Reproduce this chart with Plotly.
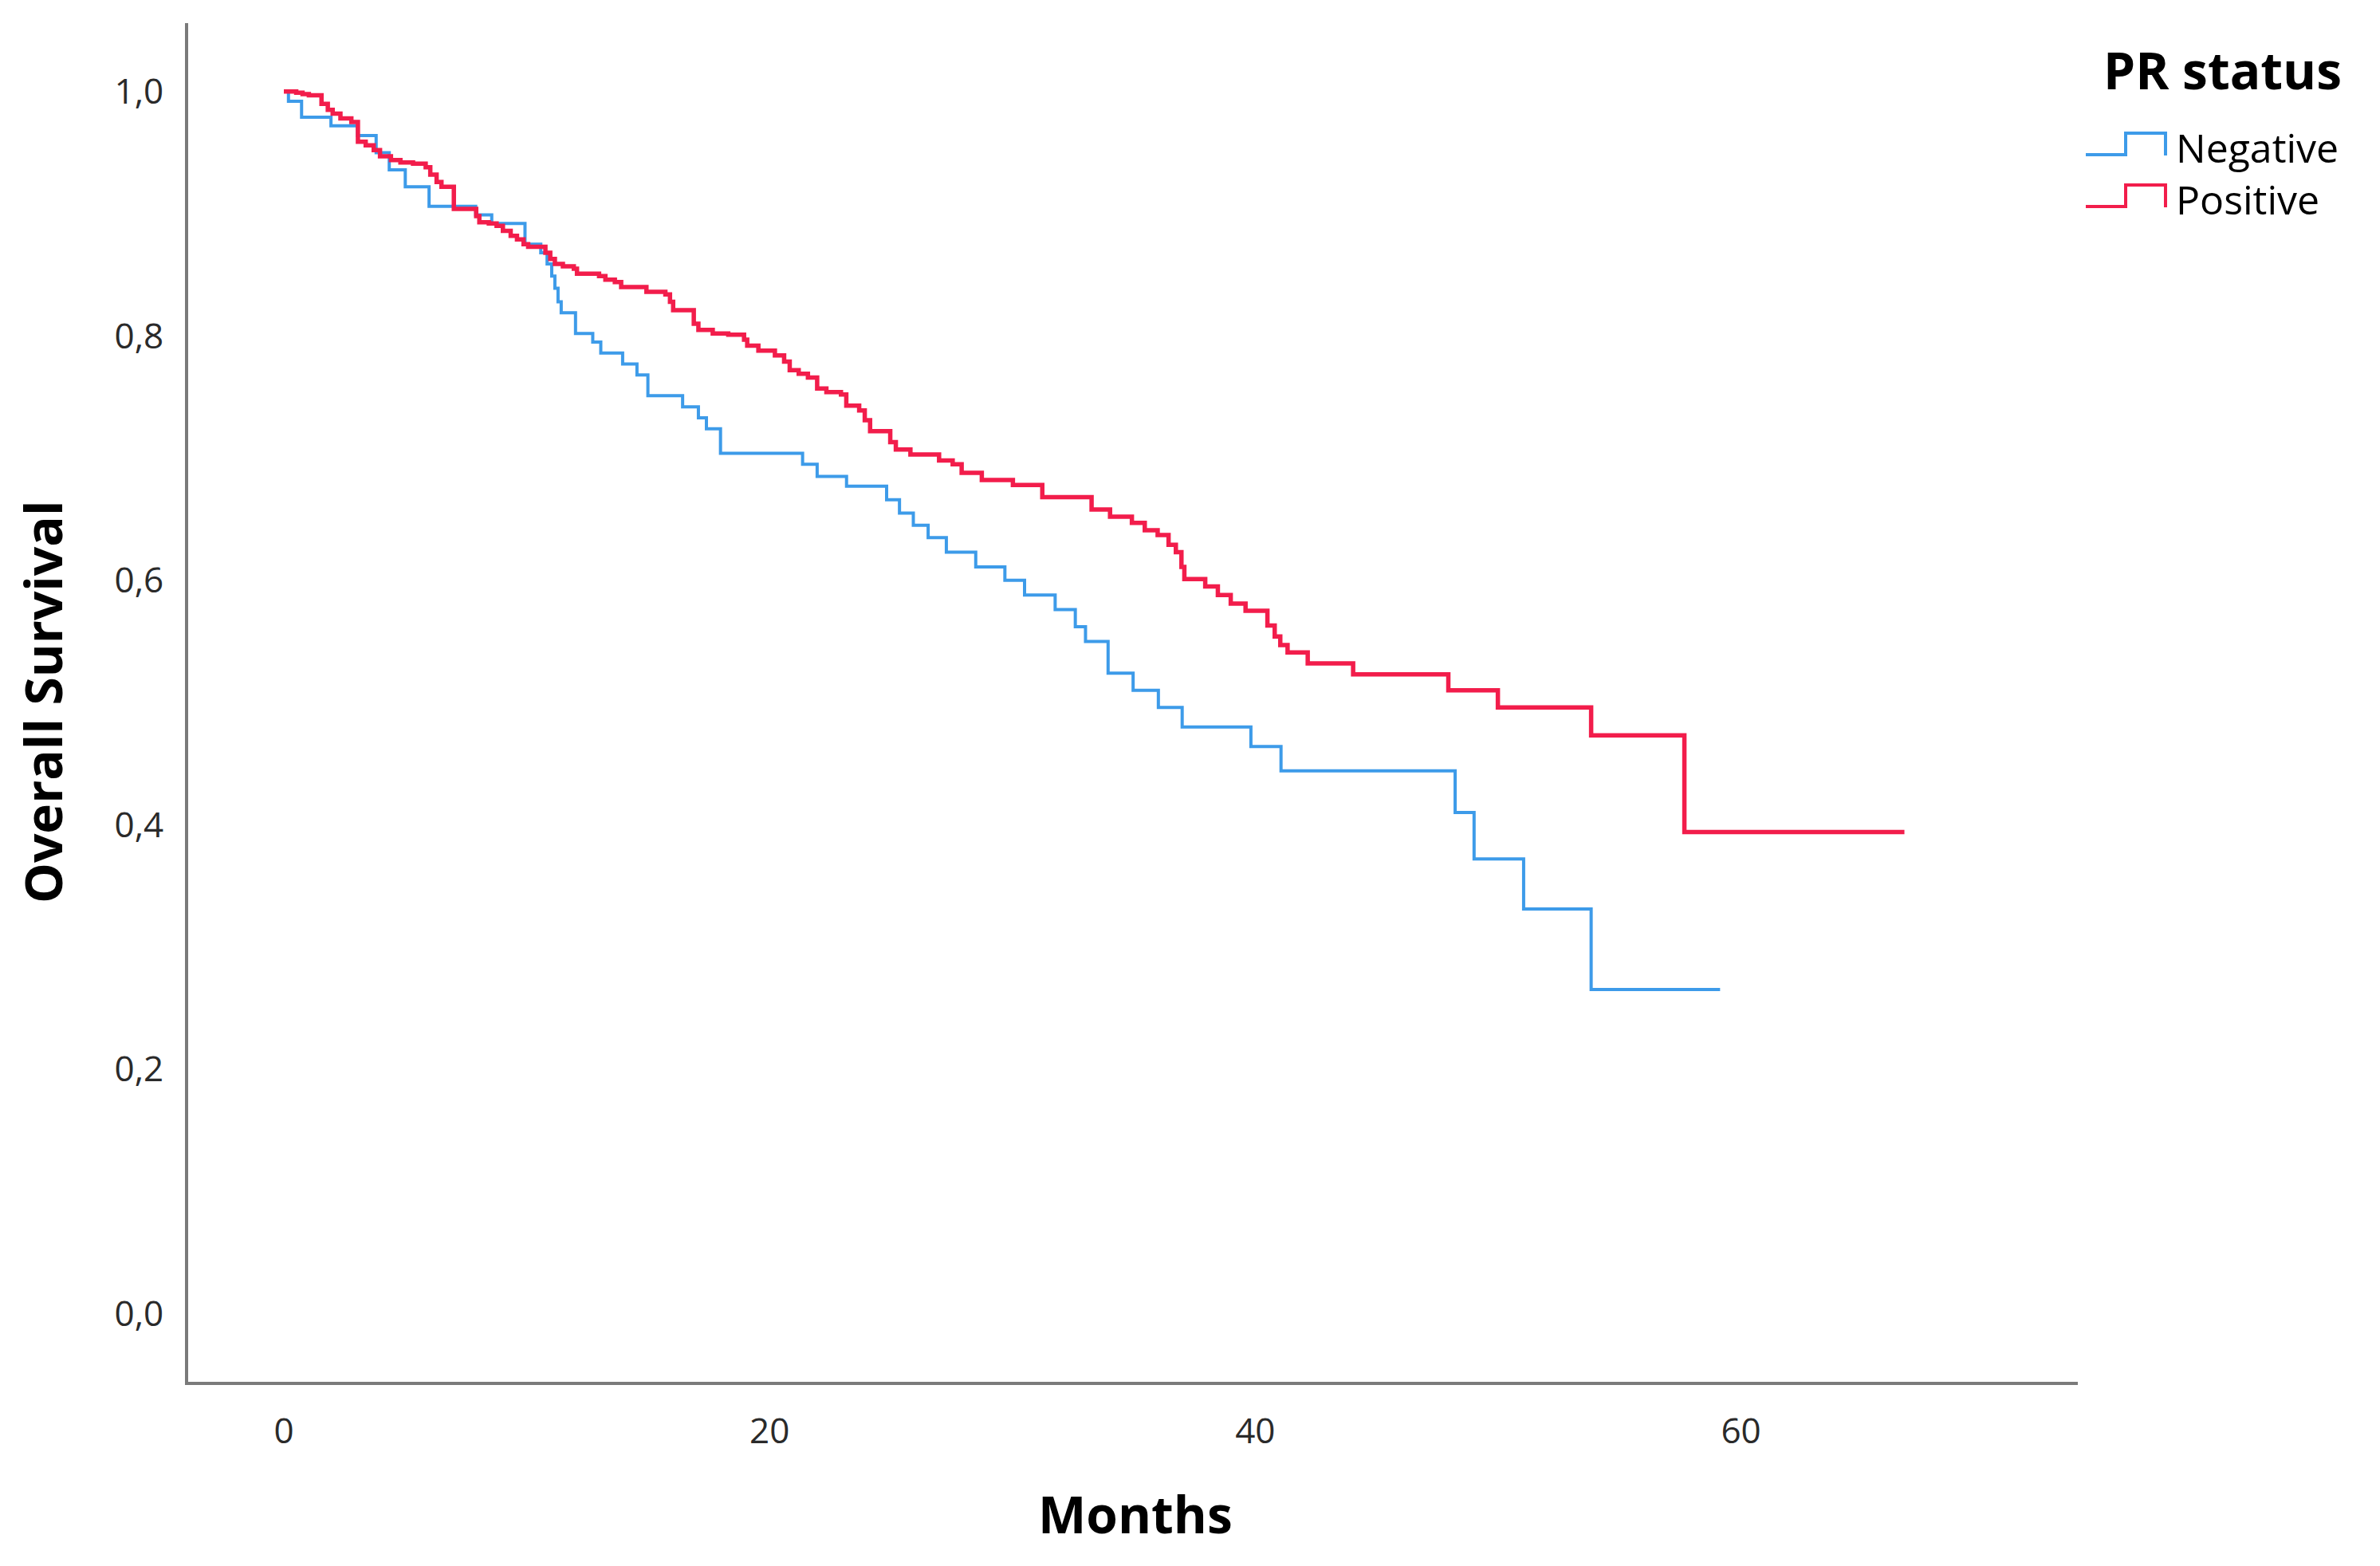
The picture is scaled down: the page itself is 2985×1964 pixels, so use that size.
import plotly.graph_objects as go

# Kaplan-Meier step data (months, overall survival)
neg_months = [0, 0.19, 0.73, 1.94, 3.03, 3.8, 4.34, 5.0, 5.98, 7.9, 8.56, 9.93, 10.58, 10.84,
              11.03, 11.16, 11.29, 11.42, 12.01, 12.72, 13.05, 13.95, 14.54, 14.99, 16.42,
              17.07, 17.4, 17.98, 21.36, 21.96, 23.17, 24.82, 25.35, 25.92, 26.53, 27.28,
              28.49, 29.69, 30.5, 31.76, 32.59, 33.01, 33.94, 34.97, 36.01, 36.99, 39.82,
              41.06, 48.23, 49.01, 51.05, 53.83, 59.14]
neg_surv = [1.0, 0.992, 0.979, 0.972, 0.964, 0.95, 0.936, 0.922, 0.906, 0.899, 0.892, 0.875,
            0.868, 0.859, 0.849, 0.839, 0.828, 0.819, 0.802, 0.795, 0.786, 0.777, 0.768,
            0.751, 0.742, 0.733, 0.724, 0.704, 0.695, 0.685, 0.677, 0.666, 0.655, 0.645,
            0.635, 0.623, 0.611, 0.600, 0.588, 0.576, 0.562, 0.550, 0.524, 0.510, 0.496,
            0.480, 0.464, 0.444, 0.410, 0.372, 0.331, 0.265, 0.265]

pos_months = [0, 0.51, 0.77, 1.03, 1.55, 1.81, 2.01, 2.33, 2.78, 3.05, 3.37, 3.7, 3.96, 4.41,
              4.8, 5.32, 5.84, 6.03, 6.29, 6.49, 7.0, 7.92, 8.05, 8.44, 8.76, 9.02, 9.34, 9.6,
              9.87, 10.06, 10.77, 10.97, 11.16, 11.49, 11.94, 12.07, 12.98, 13.24, 13.63,
              13.89, 14.93, 15.71, 15.9, 16.03, 16.88, 17.07, 17.66, 18.3, 18.95, 19.08,
              19.54, 20.22, 20.6, 20.83, 21.2, 21.58, 21.96, 22.34, 22.94, 23.16, 23.69,
              23.92, 24.14, 24.97, 25.2, 25.8, 26.98, 27.54, 27.91, 28.74, 30.02, 31.23,
              33.26, 34.02, 34.92, 35.45, 35.98, 36.43, 36.73, 36.96, 37.08, 37.94, 38.46,
              38.99, 39.6, 40.5, 40.8, 41.03, 41.33, 42.16, 44.03, 47.95, 49.99, 53.83,
              57.67, 66.73]
pos_surv = [1.0, 0.999, 0.998, 0.997, 0.99, 0.985, 0.982, 0.978, 0.975, 0.959, 0.956, 0.952,
            0.947, 0.944, 0.942, 0.941, 0.938, 0.932, 0.926, 0.922, 0.904, 0.898, 0.893,
            0.892, 0.89, 0.886, 0.882, 0.879, 0.875, 0.873, 0.868, 0.863, 0.859, 0.857,
            0.855, 0.851, 0.849, 0.846, 0.844, 0.84, 0.836, 0.834, 0.828, 0.821, 0.81,
            0.805, 0.802, 0.801, 0.797, 0.792, 0.788, 0.784, 0.779, 0.772, 0.769, 0.766,
            0.757, 0.754, 0.752, 0.743, 0.739, 0.731, 0.722, 0.713, 0.707, 0.703, 0.698,
            0.695, 0.688, 0.682, 0.678, 0.668, 0.658, 0.652, 0.647, 0.641, 0.637, 0.629,
            0.623, 0.611, 0.601, 0.595, 0.588, 0.581, 0.575, 0.563, 0.554, 0.547, 0.541,
            0.532, 0.523, 0.510, 0.496, 0.473, 0.394, 0.394]

assert len(neg_months) == len(neg_surv)
assert len(pos_months) == len(pos_surv)

x_ticks = [0, 20, 40, 60]
y_ticks = [0.0, 0.2, 0.4, 0.6, 0.8, 1.0]

group_names = ["Negative", "Positive"]
group_colors = ["#3d9be9", "#f21d4b"]
legend_title = "PR status"

W, H = 2985, 1964
L, R, T, B = 236, 379, 29, 231
pw, ph = W - L - R, H - T - B


def px_x(X):
    return (X - L) / pw


def px_y(Y):
    return (H - B - Y) / ph


fig = go.Figure()
fig.add_trace(go.Scatter(x=neg_months, y=neg_surv, mode="lines", line_shape="hv",
                         line=dict(color=group_colors[0], width=4), name=group_names[0]))
fig.add_trace(go.Scatter(x=pos_months, y=pos_surv, mode="lines", line_shape="hv",
                         line=dict(color=group_colors[1], width=5.5), name=group_names[1]))

tick_font = dict(family="Open Sans, sans-serif", size=44, color="#2a2a2a")

fig.update_layout(
    width=W, height=H,
    margin=dict(l=L, r=R, t=T, b=B, autoexpand=False),
    paper_bgcolor="white", plot_bgcolor="white",
    showlegend=False,
    separators=", ",
    xaxis=dict(range=[-3.94, 73.87], tickvals=x_ticks, showgrid=False, zeroline=False,
               showline=True, linecolor="#7a7a7a", linewidth=4, ticks="",
               tickfont=tick_font, ticklabelstandoff=20),
    yaxis=dict(range=[-0.056, 1.056], tickvals=y_ticks, tickformat=".1f", showgrid=False,
               zeroline=False, showline=True, linecolor="#7a7a7a", linewidth=4, ticks="",
               tickfont=tick_font, ticklabelstandoff=18),
)

title_font = dict(family="Open Sans, sans-serif", size=64, color="black")
fig.add_annotation(text="<b>Overall Survival</b>", xref="paper", yref="paper",
                   x=px_x(53), y=0.5, textangle=-90, showarrow=False, font=title_font,
                   xanchor="center", yanchor="middle")
fig.add_annotation(text="<b>Months</b>", xref="paper", yref="paper",
                   x=px_x(1424), y=px_y(1898), showarrow=False, font=title_font,
                   xanchor="center", yanchor="middle")

# custom legend with step symbols
fig.add_annotation(text="<b>" + legend_title + "</b>", xref="paper", yref="paper",
                   x=px_x(2636), y=px_y(88), showarrow=False,
                   font=dict(family="Open Sans, sans-serif", size=64, color="black"),
                   xanchor="left", yanchor="middle")
item_y = [185, 250]
for name, color, yc in zip(group_names, group_colors, item_y):
    y_lo, y_hi = yc + 9, yc - 18
    path = "M {:.5f},{:.5f} L {:.5f},{:.5f} L {:.5f},{:.5f} L {:.5f},{:.5f} L {:.5f},{:.5f}".format(
        px_x(2616), px_y(y_lo), px_x(2666), px_y(y_lo), px_x(2666), px_y(y_hi),
        px_x(2716), px_y(y_hi), px_x(2716), px_y(y_lo + 1))
    fig.add_shape(type="path", path=path, xref="paper", yref="paper",
                  line=dict(color=color, width=4))
    fig.add_annotation(text=name, xref="paper", yref="paper", x=px_x(2728), y=px_y(yc),
                       showarrow=False, xanchor="left", yanchor="middle", borderpad=0,
                       font=dict(family="Open Sans, sans-serif", size=50, color="black"))

fig.write_html("out.html", post_script="document.body.style.margin='0';",
               config={"displayModeBar": False})
